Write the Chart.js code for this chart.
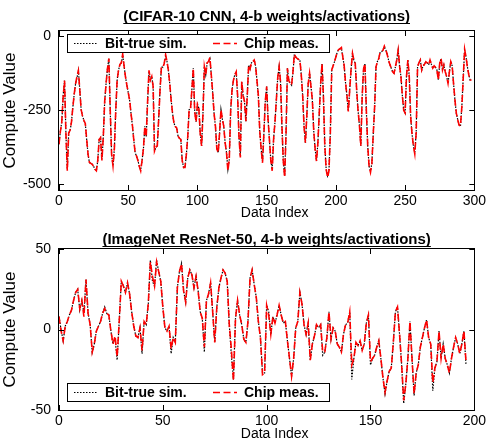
<!DOCTYPE html>
<html><head><meta charset="utf-8">
<script src="https://cdn.jsdelivr.net/npm/chart.js@4/dist/chart.umd.min.js"></script>
<style>
html,body{margin:0;padding:0;background:#fff;}
#wrap{position:relative;width:489px;height:446px;overflow:hidden;}
canvas{position:absolute;left:0;}
</style></head><body>
<div id="wrap">
<canvas id="c1" width="489" height="225" style="top:0"></canvas>
<canvas id="c2" width="489" height="221" style="top:225px"></canvas>
</div>
<script>
const FF = '"Liberation Sans", Arial, Helvetica, sans-serif';
const seriesNames = ["Bit-true sim.", "Chip meas."];
const xTitle = "Data Index";
const yTitle = "Compute Value";

// ---- Top panel: CIFAR-10 CNN ----
const titleTop = "(CIFAR-10 CNN, 4-b weights/activations)";
const xTicksTop = [0, 50, 100, 150, 200, 250, 300];
const yTicksTop = [-500, -250, 0];
const simTop = [-365,-320,-290,-200,-150,-330,-450,-327,-320,-290,
-240,-195,-160,-140,-116,-180,-248,-270,-285,-295,
-349,-400,-427,-430,-433,-440,-450,-455,-420,-349,
-343,-416,-340,-220,-160,-110,-75,-248,-400,-438,
-380,-250,-148,-115,-95,-90,-64,-100,-136,-165,
-190,-215,-260,-300,-350,-394,-405,-420,-440,-452,
-420,-380,-304,-340,-220,-120,-148,-136,-170,-388,
-375,-371,-280,-180,-103,-105,-92,-67,-85,-114,
-160,-215,-260,-293,-305,-310,-338,-345,-349,-420,
-444,-444,-400,-340,-248,-245,-180,-108,-250,-290,
-230,-243,-327,-371,-260,-103,-130,-90,-85,-75,
-130,-190,-260,-304,-380,-394,-327,-248,-280,-304,
-360,-394,-450,-416,-250,-181,-148,-130,-120,-200,
-340,-405,-153,-200,-220,-287,-200,-97,-110,-90,
-86,-80,-100,-150,-200,-320,-380,-422,-330,-220,
-170,-280,-349,-420,-450,-349,-290,-215,-140,-103,
-153,-300,-420,-472,-327,-108,-150,-159,-165,-120,
-64,-70,-75,-78,-80,-130,-200,-304,-360,-270,
-160,-125,-170,-215,-320,-380,-422,-360,-260,-160,
-92,-204,-371,-450,-472,-455,-327,-114,-100,-86,
-70,-53,-45,-42,-41,-70,-100,-159,-200,-254,
-180,-110,-58,-80,-92,-181,-250,-300,-371,-204,
-110,-92,-250,-371,-440,-455,-430,-330,-237,-103,
-85,-75,-53,-52,-47,-36,-45,-60,-80,-95,
-108,-120,-125,-103,-80,-47,-100,-136,-200,-250,
-259,-136,-80,-136,-271,-330,-371,-394,-327,-103,
-90,-80,-114,-100,-95,-86,-90,-97,-80,-95,
-108,-100,-105,-114,-148,-92,-75,-114,-97,-120,
-136,-159,-120,-86,-100,-160,-215,-260,-282,-300,
-304,-237,-140,-47,-70,-103,-130,-148,-148];
const measTop = [-365,-322,-290,-205,-150,-330,-455,-327,-318,-290,
-240,-195,-160,-135,-116,-180,-248,-270,-285,-295,
-349,-400,-427,-430,-433,-440,-450,-455,-420,-349,
-343,-420,-340,-220,-160,-110,-75,-248,-400,-438,
-380,-250,-148,-115,-95,-90,-60,-100,-136,-165,
-190,-215,-260,-300,-350,-394,-405,-420,-440,-455,
-420,-380,-304,-340,-220,-115,-148,-136,-170,-388,
-375,-371,-280,-180,-103,-105,-92,-62,-85,-114,
-160,-215,-260,-293,-305,-310,-338,-345,-349,-420,
-444,-444,-400,-340,-248,-245,-180,-108,-255,-290,
-230,-243,-327,-371,-260,-103,-130,-90,-85,-72,
-130,-190,-260,-304,-380,-394,-327,-248,-280,-304,
-360,-394,-455,-416,-250,-181,-148,-130,-120,-200,
-340,-410,-153,-200,-220,-287,-200,-97,-110,-90,
-86,-80,-100,-150,-200,-320,-380,-428,-330,-220,
-170,-280,-349,-420,-455,-349,-290,-215,-140,-103,
-153,-300,-420,-478,-327,-108,-150,-159,-165,-120,
-60,-70,-75,-78,-80,-130,-200,-304,-360,-270,
-160,-125,-170,-215,-320,-380,-422,-360,-260,-160,
-92,-204,-371,-450,-478,-455,-327,-114,-100,-86,
-70,-53,-45,-42,-38,-70,-100,-159,-200,-254,
-180,-110,-58,-80,-92,-181,-250,-300,-371,-204,
-110,-92,-250,-371,-440,-460,-430,-330,-237,-103,
-85,-75,-53,-52,-47,-33,-45,-60,-80,-95,
-108,-120,-125,-103,-80,-47,-100,-136,-200,-250,
-259,-136,-80,-136,-271,-330,-371,-398,-327,-103,
-90,-80,-114,-100,-95,-86,-90,-97,-80,-95,
-108,-100,-105,-114,-148,-92,-75,-114,-97,-120,
-136,-159,-120,-86,-100,-160,-215,-260,-282,-300,
-304,-237,-140,-44,-70,-103,-130,-148,-148];

// ---- Bottom panel: ImageNet ResNet-50 ----
const titleBot = "(ImageNet ResNet-50, 4-b weights/activations)";
const xTicksBot = [0, 50, 100, 150, 200];
const yTicksBot = [-50, 0, 50];
const simBot = [8,0,-7,2,5,9,12,18,23,25,
12,18,10,31,10,3,-14,-9,-1,2,
5,10,14,10,9,-1,-9,-6,-19,5,
30,27,23,29,22,11,2,-4,-5,1,
-15,5,3,16,43,30,27,43,36,30,
14,1,-1,2,-15,-5,-8,26,36,41,
24,17,32,37,34,26,33,24,11,7,
-14,18,22,29,11,-8,14,26,32,37,
35,30,3,-16,-31,7,18,9,3,-6,
-8,5,32,37,28,20,5,-5,-27,-27,
15,11,-3,8,4,9,15,9,4,5,
-7,-18,-29,-18,1,5,23,16,3,-3,
4,-19,-9,-4,3,1,3,-16,-14,-5,
11,-6,1,-1,-9,-11,-14,-3,3,4,
11,-31,-18,-8,-10,-7,-13,-9,4,9,
-22,-18,-16,-11,-7,-18,-30,-40,-32,-26,
-24,-8,11,14,-3,-22,-46,-34,-18,5,
-18,-41,-27,-22,-11,-5,1,6,-5,-9,
-38,-24,-20,-1,-18,-9,-18,-22,-27,-18,
-11,-5,-9,-15,-9,-1,-22];
const measBot = [8,-1,-7,2,5,9,12,18,23,25,
13,18,8,31,10,3,-14,-9,-1,2,
5,10,13,10,9,-1,-9,-4,-17,5,
30,27,23,29,22,11,2,-4,-5,1,
-13,5,3,16,42,33,27,42,36,30,
14,1,-1,2,-12,-5,-8,26,36,41,
24,17,32,37,34,26,33,24,11,7,
-11,18,22,29,11,-8,14,26,32,37,
35,30,3,-12,-32,7,18,9,3,-6,
-8,5,32,37,28,20,5,-5,-28,-27,
15,9,-3,8,4,9,15,9,4,5,
-7,-18,-29,-18,1,5,23,16,3,-3,
4,-19,-9,-4,3,1,3,-14,-14,-5,
11,-6,1,-1,-9,-11,-14,-3,3,4,
11,-22,-18,-8,-10,-7,-13,-9,4,9,
-20,-18,-16,-11,-7,-18,-30,-39,-32,-26,
-24,-8,11,14,-3,-22,-44,-34,-18,5,
-18,-40,-27,-22,-11,-5,1,6,-5,-9,
-33,-24,-20,-1,-18,-9,-18,-22,-27,-18,
-11,-5,-9,-15,-9,-1,-20];

const decoPlugin = {
  id: 'deco',
  afterDraw(chart, args, opts) {
    const {ctx, chartArea: a, scales: {x, y}} = chart;
    ctx.save();
    ctx.setLineDash([]);
    ctx.strokeStyle = '#000';
    ctx.lineWidth = 1;
    // frame
    ctx.strokeRect(Math.round(a.left) - 0.5, Math.round(a.top) - 0.5,
                   Math.round(a.right - a.left) + 1, Math.round(a.bottom - a.top) + 1);
    // inward ticks on all four sides
    const tl = 5;
    ctx.beginPath();
    x.ticks.forEach(t => {
      const px = Math.round(x.getPixelForValue(t.value)) + 0.5;
      ctx.moveTo(px, a.bottom); ctx.lineTo(px, a.bottom - tl);
      ctx.moveTo(px, a.top); ctx.lineTo(px, a.top + tl);
    });
    y.ticks.forEach(t => {
      const py = Math.round(y.getPixelForValue(t.value)) + 0.5;
      ctx.moveTo(a.left, py); ctx.lineTo(a.left + tl, py);
      ctx.moveTo(a.right, py); ctx.lineTo(a.right - tl, py);
    });
    ctx.stroke();
    ctx.fillStyle = '#000';
    // x-axis title
    ctx.font = '14px ' + FF;
    ctx.textAlign = 'center';
    ctx.textBaseline = 'middle';
    ctx.fillText(xTitle, (a.left + a.right) / 2 + 8, a.bottom + opts.xTitleDy);
    // underlined bold title
    ctx.font = 'bold 15px ' + FF;
    ctx.textBaseline = 'alphabetic';
    const cx = (a.left + a.right) / 2;
    ctx.fillText(opts.title, cx, opts.titleY);
    const w = ctx.measureText(opts.title).width;
    ctx.beginPath();
    ctx.moveTo(cx - w / 2, opts.titleY + 2.5);
    ctx.lineTo(cx + w / 2, opts.titleY + 2.5);
    ctx.stroke();
    // legend box
    const bw = 262, bh = 18;
    const bx = a.left + 8;
    const by = opts.legendAt === 'top' ? a.top + 3 : a.bottom - 9 - bh;
    ctx.fillStyle = '#fff';
    ctx.fillRect(bx, by, bw, bh);
    ctx.strokeRect(Math.round(bx) + 0.5, Math.round(by) + 0.5, bw, bh);
    const entries = [[7, 31, 38], [146, 170, 177]];
    const my = Math.round(by + bh / 2) + 0.5;
    chart.data.datasets.forEach((ds, i) => {
      const e = entries[i];
      ctx.save();
      ctx.strokeStyle = ds.borderColor;
      ctx.lineWidth = ds.borderWidth;
      ctx.setLineDash(ds.borderDash);
      ctx.beginPath();
      ctx.moveTo(bx + e[0], my); ctx.lineTo(bx + e[1], my);
      ctx.stroke();
      ctx.restore();
      ctx.fillStyle = '#000';
      ctx.font = 'bold 14px ' + FF;
      ctx.textAlign = 'left';
      ctx.textBaseline = 'middle';
      ctx.fillText(ds.label, bx + e[2], my + 0.5);
    });
    ctx.restore();
  }
};

function makeChart(id, cfg) {
  const pts = arr => arr.map((v, i) => ({x: i, y: v}));
  return new Chart(document.getElementById(id), {
    type: 'line',
    data: {
      datasets: [
        {label: seriesNames[0], data: pts(cfg.sim), borderColor: '#000000', borderWidth: 1.2,
         borderDash: [1.5, 1.5], pointRadius: 0, tension: 0, fill: false, order: 1},
        {label: seriesNames[1], data: pts(cfg.meas), borderColor: '#ff0000', borderWidth: 1.6,
         borderDash: [7, 3.5], pointRadius: 0, tension: 0, fill: false, order: 0}
      ]
    },
    options: {
      responsive: false, animation: false, devicePixelRatio: 1,
      layout: {padding: {left: 0, right: 12, top: cfg.padTop, bottom: 0}},
      plugins: {
        legend: {display: false}, tooltip: {enabled: false}, title: {display: false},
        deco: {title: cfg.title, titleY: cfg.titleY, legendAt: cfg.legendAt, xTitleDy: cfg.xTitleDy}
      },
      scales: {
        x: {
          type: 'linear', min: cfg.xTicks[0], max: cfg.xTicks[cfg.xTicks.length - 1],
          afterBuildTicks: s => { s.ticks = cfg.xTicks.map(v => ({value: v})); },
          afterFit: s => { s.height = cfg.xH; },
          grid: {display: false, drawTicks: false, tickLength: 0}, border: {display: false},
          ticks: {padding: 3, color: '#000', font: {family: FF, size: 14}, maxRotation: 0, autoSkip: false},
          title: {display: false}
        },
        y: {
          type: 'linear', min: cfg.yMin, max: cfg.yMax,
          afterBuildTicks: s => { s.ticks = cfg.yTicks.map(v => ({value: v})); },
          afterFit: s => { s.width = 59; },
          grid: {display: false, drawTicks: false, tickLength: 0}, border: {display: false},
          ticks: {padding: 8, color: '#000', font: {family: FF, size: 14}},
          title: {display: true, text: yTitle, color: '#000', font: {family: FF, size: 17}, padding: {top: 0, bottom: 0}}
        }
      }
    },
    plugins: [decoPlugin]
  });
}

makeChart('c1', {sim: simTop, meas: measTop, xTicks: xTicksTop, yTicks: yTicksTop,
  yMin: -520, yMax: 18, padTop: 31, xH: 35, title: titleTop, titleY: 21, legendAt: 'top', xTitleDy: 23});
makeChart('c2', {sim: simBot, meas: measBot, xTicks: xTicksBot, yTicks: yTicksBot,
  yMin: -50, yMax: 50, padTop: 24, xH: 36, title: titleBot, titleY: 19, legendAt: 'bottom', xTitleDy: 24});
</script>
</body></html>
